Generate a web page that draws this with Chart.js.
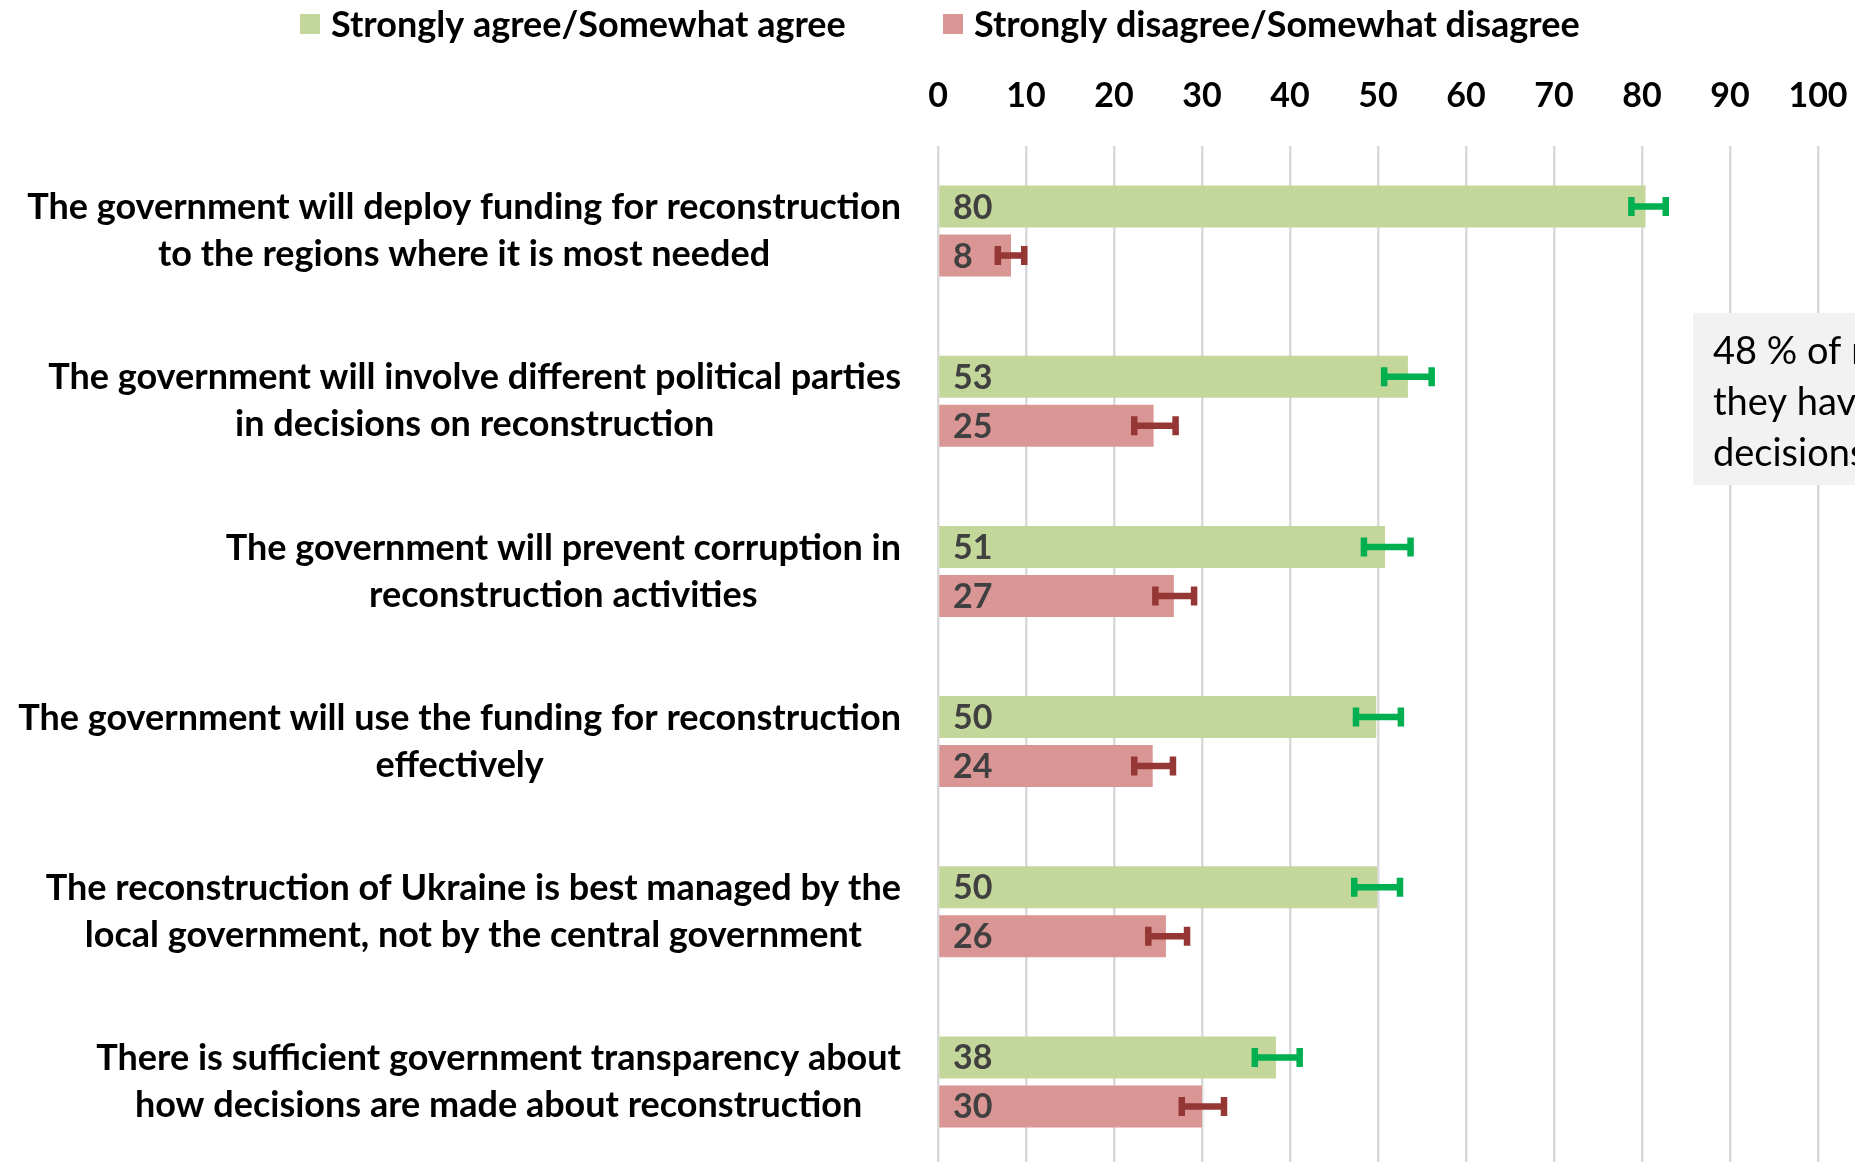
<!DOCTYPE html>
<html>
<head>
<meta charset="utf-8">
<script src="https://cdn.jsdelivr.net/npm/chart.js@4.4.0/dist/chart.umd.min.js"></script>
<style>
  html, body { margin: 0; padding: 0; background: #ffffff; overflow: hidden; }
  #wrap { width: 1855px; height: 1168px; position: relative; }
</style>
</head>
<body>
<div id="wrap"><canvas id="chart"></canvas></div>
<script>
// Survey statements (y categories), two lines each
const statements = [
    ['The government will deploy funding for reconstruction', 'to the regions where it is most needed'],
    ['The government will involve different political parties', 'in decisions on reconstruction'],
    ['The government will prevent corruption in', 'reconstruction activities'],
    ['The government will use the funding for reconstruction', 'effectively'],
    ['The reconstruction of Ukraine is best managed by the', 'local government, not by the central government'],
    ['There is sufficient government transparency about', 'how decisions are made about reconstruction']
];

// Strongly agree/Somewhat agree (%)
const agreeValues = [80.4, 53.4, 50.8, 49.8, 49.9, 38.4];
const agreeLabels = ['80', '53', '51', '50', '50', '38'];
const agreeLow = [78.8, 50.7, 48.4, 47.5, 47.3, 36.0];
const agreeHigh = [82.7, 56.1, 53.7, 52.6, 52.5, 41.1];

// Strongly disagree/Somewhat disagree (%)
const disagreeValues = [8.3, 24.5, 26.8, 24.4, 25.9, 30.0];
const disagreeLabels = ['8', '25', '27', '24', '26', '30'];
const disagreeLow = [6.8, 22.3, 24.7, 22.3, 23.9, 27.7];
const disagreeHigh = [9.8, 27.0, 29.1, 26.7, 28.3, 32.5];

const xTicks = [0, 10, 20, 30, 40, 50, 60, 70, 80, 90, 100];

const noteLines = ['48 % of respondents', 'they have no say in', 'decisions on reconstruction'];

const FONT = 'Lato, "Noto Sans", sans-serif';

// Error bars and value labels on each bar
const barExtras = {
    id: 'barExtras',
    afterDatasetsDraw(chart) {
        const ctx = chart.ctx;
        const xs = chart.scales.x;
        ctx.save();
        chart.data.datasets.forEach((ds, di) => {
            const meta = chart.getDatasetMeta(di);
            meta.data.forEach((bar, i) => {
                const lo = xs.getPixelForValue(ds.errLow[i]);
                const hi = xs.getPixelForValue(ds.errHigh[i]);
                ctx.strokeStyle = ds.errColor;
                ctx.lineWidth = 6.5;
                ctx.beginPath();
                ctx.moveTo(lo, bar.y);
                ctx.lineTo(hi, bar.y);
                ctx.moveTo(lo, bar.y - 9.5);
                ctx.lineTo(lo, bar.y + 9.5);
                ctx.moveTo(hi, bar.y - 9.5);
                ctx.lineTo(hi, bar.y + 9.5);
                ctx.stroke();

                ctx.fillStyle = '#404040';
                ctx.font = 'bold 34px ' + FONT;
                ctx.textAlign = 'left';
                ctx.textBaseline = 'middle';
                ctx.fillText(ds.valueLabels[i], xs.getPixelForValue(0) + 15, bar.y + 1);
            });
        });
        ctx.restore();
    }
};

// Right-aligned blocks of centred lines for the statements, legend and note box
const decorations = {
    id: 'decorations',
    afterDraw(chart) {
        const ctx = chart.ctx;
        const ys = chart.scales.y;
        ctx.save();
        ctx.fillStyle = '#000000';
        ctx.font = 'bold 36px ' + FONT;
        ctx.textBaseline = 'middle';
        ctx.textAlign = 'center';
        const right = chart.chartArea.left - 37;
        statements.forEach((lines, i) => {
            const yc = ys.getPixelForValue(i);
            const w = Math.max(...lines.map(l => ctx.measureText(l).width));
            const cx = right - w / 2;
            lines.forEach((line, k) => {
                ctx.fillText(line, cx, yc + (k - (lines.length - 1) / 2) * 47);
            });
        });

        // legend
        const legendX = [300, 943];
        ctx.textAlign = 'left';
        chart.data.datasets.forEach((ds, di) => {
            ctx.fillStyle = ds.backgroundColor;
            ctx.fillRect(legendX[di], 14, 20, 20);
            ctx.fillStyle = '#000000';
            ctx.fillText(ds.label, legendX[di] + 31, 25);
        });

        // note box (cut off at the right edge)
        ctx.fillStyle = '#F2F2F2';
        ctx.fillRect(1693, 313, 200, 172);
        ctx.fillStyle = '#000000';
        ctx.font = '38px ' + FONT;
        noteLines.forEach((line, k) => {
            ctx.fillText(line, 1713, 352 + k * 51);
        });
        ctx.restore();
    }
};

new Chart(document.getElementById('chart'), {
    type: 'bar',
    data: {
        labels: statements,
        datasets: [
            {
                label: 'Strongly agree/Somewhat agree',
                data: agreeValues,
                valueLabels: agreeLabels,
                errLow: agreeLow,
                errHigh: agreeHigh,
                errColor: '#00B050',
                backgroundColor: '#C4D79B'
            },
            {
                label: 'Strongly disagree/Somewhat disagree',
                data: disagreeValues,
                valueLabels: disagreeLabels,
                errLow: disagreeLow,
                errHigh: disagreeHigh,
                errColor: '#953735',
                backgroundColor: '#DA9694'
            }
        ]
    },
    options: {
        indexAxis: 'y',
        responsive: true,
        maintainAspectRatio: false,
        animation: false,
        categoryPercentage: 0.576,
        barPercentage: 0.857,
        layout: { padding: { top: 50, right: 0, bottom: 1, left: 0 } },
        plugins: {
            legend: { display: false },
            tooltip: { enabled: false }
        },
        scales: {
            x: {
                position: 'top',
                min: 0,
                max: 100,
                afterBuildTicks(scale) {
                    scale.ticks = xTicks.map(v => ({ value: v }));
                },
                afterFit(scale) {
                    scale.height = 96;
                    scale.paddingLeft = 0;
                    scale.paddingRight = 37;
                },
                grid: { color: '#D9D9D9', lineWidth: 2.5, drawTicks: false },
                border: { display: false },
                ticks: {
                    color: '#000000',
                    padding: 30,
                    font: { family: FONT, size: 34, weight: 'bold' }
                }
            },
            y: {
                ticks: { display: false },
                grid: { display: false },
                border: { display: false },
                afterFit(scale) {
                    scale.width = 938;
                }
            }
        }
    },
    plugins: [barExtras, decorations]
});
</script>
</body>
</html>
